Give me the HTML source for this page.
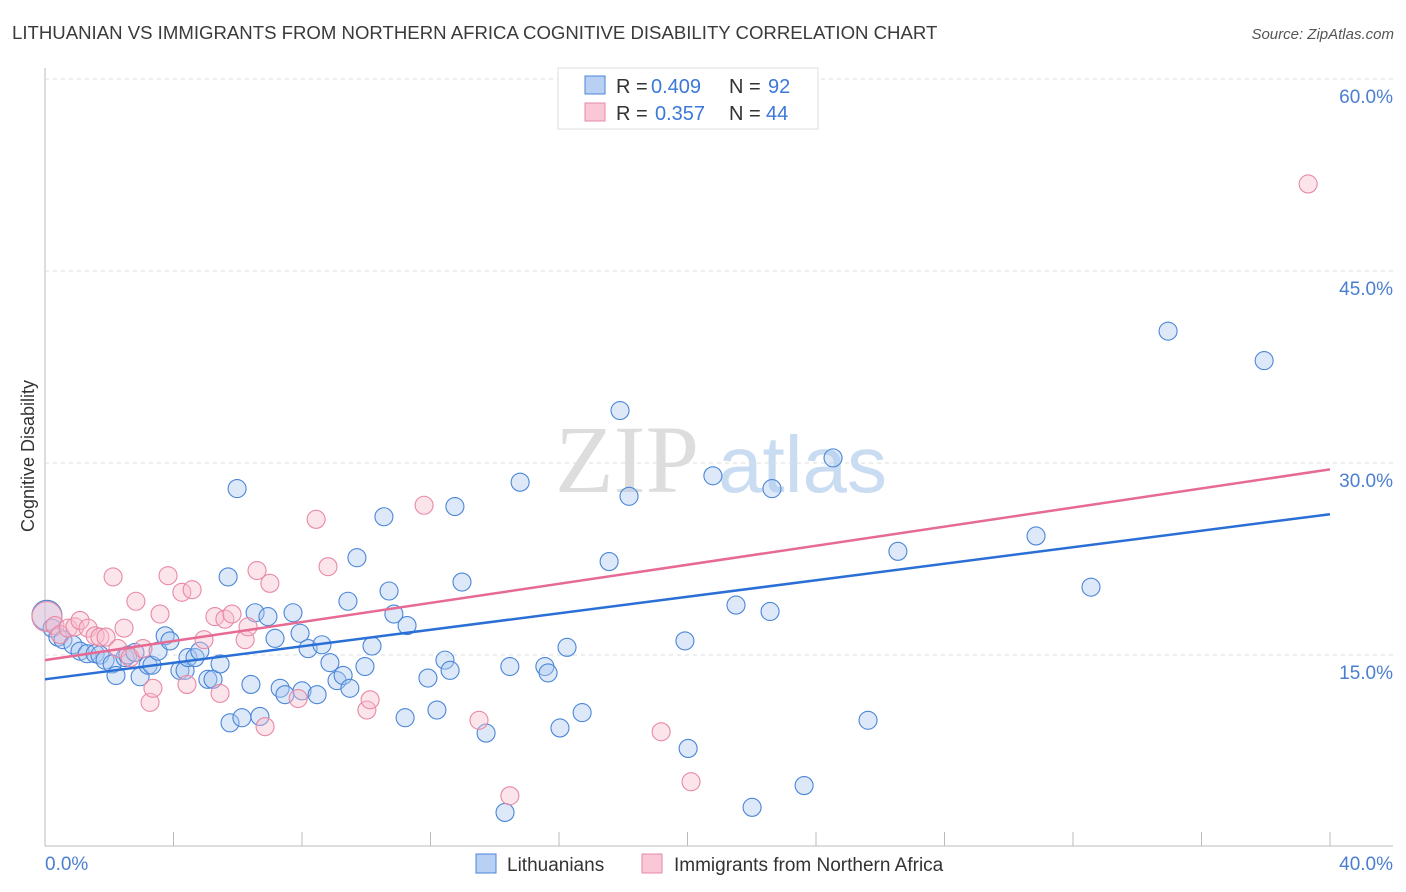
<!DOCTYPE html>
<html><head><meta charset="utf-8"><style>
body{margin:0;background:#fff;font-family:"Liberation Sans",sans-serif}
svg{display:block}
</style></head><body>
<svg id="c" width="1406" height="892">
<text x="12" y="39" font-size="18.6" fill="#3a3a3a">LITHUANIAN VS IMMIGRANTS FROM NORTHERN AFRICA COGNITIVE DISABILITY CORRELATION CHART</text>
<text x="1394" y="39" font-size="15" font-style="italic" fill="#555" text-anchor="end">Source: ZipAtlas.com</text>
<text x="34" y="456" font-size="18" fill="#333" text-anchor="middle" transform="rotate(-90 34 456)">Cognitive Disability</text>
<g><text x="555" y="492" font-size="96" font-family="Liberation Serif,serif" fill="#ddd">ZIP</text><text x="718" y="492" font-size="80" fill="#c9dcf2">atlas</text></g>
<g id="grid"></g><g id="marks"></g><g id="lines"></g>
<g>
<rect x="558" y="68" width="260" height="61" fill="#fff" stroke="#ddd"/>
<rect x="585" y="76" width="20" height="18" fill="#b7d0f3" stroke="#4a86d8"/>
<rect x="585" y="103" width="20" height="18" fill="#f9c7d6" stroke="#e889a6"/>
<text x="616" y="93" font-size="20" fill="#333">R =</text><text x="651" y="93" font-size="20" fill="#3b78d8">0.409</text>
<text x="729" y="93" font-size="20" fill="#333">N =</text><text x="768" y="93" font-size="20" fill="#3b78d8">92</text>
<text x="616" y="120" font-size="20" fill="#333">R =</text><text x="655" y="120" font-size="20" fill="#3b78d8">0.357</text>
<text x="729" y="120" font-size="20" fill="#333">N =</text><text x="766" y="120" font-size="20" fill="#3b78d8">44</text>
</g>
<g>
<rect x="476" y="854" width="20" height="19" fill="#b7d0f3" stroke="#4a86d8"/>
<text x="507" y="871" font-size="19" fill="#333">Lithuanians</text>
<rect x="642" y="854" width="20" height="19" fill="#f9c7d6" stroke="#e889a6"/>
<text x="674" y="871" font-size="19" fill="#333">Immigrants from Northern Africa</text>
</g>
</svg>
<script>
const blueX=[0.06,0.22,0.40,0.56,0.87,1.09,1.31,1.56,1.71,1.87,2.09,2.21,2.49,2.58,2.80,2.96,3.21,3.33,3.52,3.74,3.89,4.20,4.36,4.45,4.67,4.82,5.07,5.23,5.45,5.70,5.98,5.76,6.13,6.41,6.54,6.69,6.94,7.16,7.32,7.47,7.72,7.94,8.00,8.19,8.47,8.62,8.87,9.09,9.28,9.49,9.43,9.71,9.96,10.18,10.55,10.71,10.86,11.21,11.27,11.92,12.20,12.45,12.61,12.76,12.98,13.73,14.32,14.47,14.79,15.56,15.66,16.03,16.25,16.72,17.56,17.90,18.18,19.92,20.02,20.79,21.51,22.01,22.57,22.63,23.63,24.53,25.62,26.55,30.85,32.56,34.96,37.95];
const blueY=[18.1,17.1,16.4,16.2,15.8,15.3,15.1,15.1,15.0,14.6,14.3,13.4,14.8,15.0,15.2,13.3,14.2,14.2,15.3,16.5,16.1,13.8,13.8,14.8,14.8,15.3,13.1,13.1,14.3,21.1,28.0,9.7,10.1,12.7,18.3,10.2,18.0,16.3,12.4,11.9,18.3,16.7,12.2,15.5,11.9,15.8,14.4,13.0,13.4,12.4,19.2,22.6,14.1,15.7,25.8,20.0,18.2,10.1,17.3,13.2,10.7,14.6,13.8,26.6,20.7,8.9,2.7,14.1,28.5,14.1,13.6,9.3,15.6,10.5,22.3,34.1,27.4,16.1,7.7,29.0,18.9,3.1,18.4,28.0,4.8,30.4,9.9,23.1,24.3,20.3,40.3,38.0];
const pinkX=[0.06,0.31,0.47,0.72,0.93,1.09,1.34,1.56,1.71,1.90,2.12,2.27,2.46,2.65,2.83,3.05,3.27,3.36,3.58,3.83,4.26,4.42,4.58,4.95,5.29,5.45,5.60,5.82,6.23,6.32,6.60,6.85,7.00,7.88,8.44,8.81,10.02,10.12,11.80,13.51,14.47,19.18,20.11,39.32];
const pinkY=[18.0,17.3,16.6,17.1,17.2,17.7,17.1,16.5,16.4,16.4,21.1,15.5,17.1,14.8,19.2,15.5,11.3,12.4,18.2,21.2,19.9,12.7,20.1,16.2,18.0,12.0,17.8,18.2,16.2,17.2,21.6,9.4,20.6,11.6,25.6,21.9,10.7,11.5,26.7,9.9,4.0,9.0,5.1,51.8];
const blueTrend=[13.1,26.0];
const pinkTrend=[14.6,29.5];
const yTicks=[15,30,45,60];
const xTicks=[0,4,8,12,16,20,24,28,32,36,40];
const NS='http://www.w3.org/2000/svg';
const sx=v=>45+v/40*1285, sy=v=>847-v/15*192;
function mk(t,a,p){const e=document.createElementNS(NS,t);for(const k in a)e.setAttribute(k,a[k]);p.appendChild(e);return e;}
const g=document.getElementById('grid'),m=document.getElementById('marks'),l=document.getElementById('lines');
let ax=mk('line',{x1:45,y1:68,x2:45,y2:846,stroke:'#bbb'},g);


let bx=mk('line',{x1:45,y1:846,x2:1393,y2:846,stroke:'#bbb'},g);


yTicks.forEach(t=>{
 const gl=mk('line',{x1:45,y1:sy(t),x2:1393,y2:sy(t),stroke:'#ddd','stroke-dasharray':'4 4'},g);
 
 
 const tx=mk('text',{x:1393,y:sy(t)+24,'font-size':19,fill:'#4a7fd0','text-anchor':'end'},g);tx.textContent=t.toFixed(1)+'%';
 
 
});
xTicks.forEach(t=>{
 const tk=mk('line',{x1:sx(t),y1:832,x2:sx(t),y2:846,stroke:'#bbb'},g);
 
 
});
[[0,'0.0%','start',45],[40,'40.0%','end',1393]].forEach(([v,s,a,x])=>{
 const tx=mk('text',{x:x,y:870,'font-size':19,fill:'#4a7fd0','text-anchor':a},g);tx.textContent=s;
 
 
});
function pts(X,Y,fill,stroke,name){X.forEach((x,i)=>{
 const c=mk('circle',{cx:sx(x),cy:sy(Y[i]),r:i==0?15:9,fill:fill,'fill-opacity':0.4,stroke:stroke,'stroke-width':1.1},m);
 
 
});}
pts(blueX,blueY,'#a9c8f0','#4a86d8','lithuanian-point');
pts(pinkX,pinkY,'#f7bccd','#e889a6','immigrant-point');
const b=mk('line',{x1:sx(0),y1:sy(blueTrend[0]),x2:sx(40),y2:sy(blueTrend[1]),stroke:'#2a6fd6','stroke-width':2.5},l);


const p=mk('line',{x1:sx(0),y1:sy(pinkTrend[0]),x2:sx(40),y2:sy(pinkTrend[1]),stroke:'#e66a93','stroke-width':2.5},l);


</script>
</body></html>
